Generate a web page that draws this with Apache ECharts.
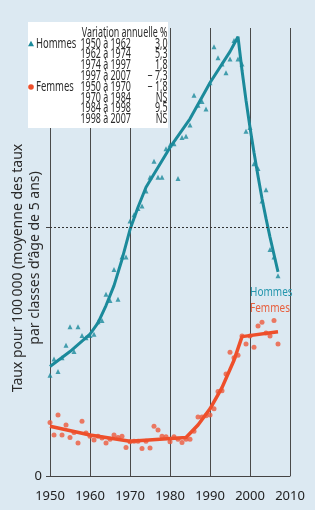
<!DOCTYPE html>
<html>
<head>
<meta charset="utf-8">
<script src="https://cdn.jsdelivr.net/npm/echarts@6/dist/echarts.min.js"></script>
<style>
    html, body { margin: 0; padding: 0; background: #dce9f2; }
    #chart { width: 315px; height: 510px; }
</style>
</head>
<body>
<div id="chart"></div>
<script>
let years = [
    1950, 1951, 1952, 1953, 1954, 1955, 1956, 1957, 1958, 1959,
    1960, 1961, 1962, 1963, 1964, 1965, 1966, 1967, 1968, 1969,
    1970, 1971, 1972, 1973, 1974, 1975, 1976, 1977, 1978, 1979,
    1980, 1981, 1982, 1983, 1984, 1985, 1986, 1987, 1988, 1989,
    1990, 1991, 1992, 1993, 1994, 1995, 1996, 1997, 1998, 1999,
    2000, 2001, 2002, 2003, 2004, 2005, 2006, 2007
];

let hommes = [
    8.1, 9.4, 8.4, 9.5, 10.5, 12.0, 10.0, 12.0, 11.3, 11.1,
    11.3, 11.4, 12.4, 12.5, 14.6, 14.1, 16.6, 14.2, 17.6, 17.6,
    20.5, 21.0, 21.5, 21.7, 22.9, 24.0, 25.3, 24.0, 24.0, 26.3,
    26.6, 26.7, 23.9, 27.2, 27.3, 28.2, 30.6, 29.8, 30.1, 29.5,
    31.6, 34.5, 33.6, 33.1, 32.4, 33.5, 35.0, 33.5, 33.1, 27.7,
    28.0, 25.1, 24.7, 22.1, 23.0, 18.2, 17.6, 16.1
];

let femmes = [
    4.3, 3.3, 4.9, 3.3, 4.1, 3.1, 3.5, 2.65, 4.4, 3.45,
    3.2, 2.9, 3.2, 3.05, 2.65, 2.95, 3.3, 3.1, 3.2, 2.3,
    2.75, 2.8, 2.8, 2.2, 2.8, 2.25, 4.0, 3.7, 3.2, 3.15,
    2.75, 3.15, 2.95, 2.7, 2.95, 2.95, 3.6, 4.75, 4.75, 4.85,
    4.9, 5.4, 6.8, 6.85, 8.2, 9.95, 9.5, 9.7, 11.25, 10.6,
    11.25, 10.35, 12.05, 12.35, 11.5, 11.25, 12.5, 10.6
];

// fitted trend lines
let hommesTrendYears = [1950, 1955, 1960, 1962, 1964, 1966, 1968, 1970, 1972, 1974,
    1980, 1985, 1990, 1995, 1997, 1998, 1999, 2000, 2001, 2002, 2003, 2004, 2005, 2006, 2007];
let hommesTrend = [8.8, 10.0, 11.4, 12.3, 13.7, 15.3, 17.4, 19.8, 21.6, 23.2,
    26.4, 28.7, 31.6, 34.1, 35.3, 32.6, 30.2, 28.0, 26.0, 24.1, 22.3, 20.7, 19.2, 17.8, 16.4];

let femmesTrendYears = [1950, 1960, 1970, 1984, 1987, 1990, 1993, 1996, 1998, 2007];
let femmesTrend = [4.0, 3.3, 2.8, 3.1, 4.1, 5.4, 7.1, 9.3, 11.2, 11.6];

let refLevel = 20;

let hommesPeriods = ['1950 à 1962', '1962 à 1974', '1974 à 1997', '1997 à 2007'];
let hommesRates = ['3,0', '5,3', '1,8', '\u2212 7,3'];
let femmesPeriods = ['1950 à 1970', '1970 à 1984', '1984 à 1998', '1998 à 2007'];
let femmesRates = ['\u2212 1,8', 'NS', '9,5', 'NS'];

let teal = '#1b8a9b';
let orange = '#ee4f2b';
let font = '"Noto Sans", sans-serif';

let pairs = (xs, ys) => xs.map((x, i) => [x, ys[i]]);

// legend box drawn by hand
let graphics = [{
    type: 'rect', z: 100,
    shape: { x: 28, y: 22, width: 140, height: 106 },
    style: { fill: '#ffffff' }
}];

let condensed = (text, x, y, align, color, size, sx) => ({
    type: 'text', z: 101, x: x, y: y, scaleX: sx || 0.66,
    style: {
        text: text, fill: color || '#2b2b2b', font: (size || 13.5) + 'px ' + font,
        align: align, verticalAlign: 'middle'
    }
});

let rowY = i => 33 + i * 10.8;

graphics.push(condensed('Variation annuelle %', 167.5, rowY(0), 'right'));
graphics.push(condensed('Hommes', 36, rowY(1), 'left', '#2b2b2b', 13.5, 0.7));
graphics.push(condensed('Femmes', 36, rowY(5), 'left', '#2b2b2b', 13.5, 0.7));
hommesPeriods.forEach((p, i) => {
    graphics.push(condensed(p, 80.5, rowY(1 + i), 'left'));
    graphics.push(condensed(hommesRates[i], 167.5, rowY(1 + i), 'right'));
});
femmesPeriods.forEach((p, i) => {
    graphics.push(condensed(p, 80.5, rowY(5 + i), 'left'));
    graphics.push(condensed(femmesRates[i], 167.5, rowY(5 + i), 'right'));
});
graphics.push({
    type: 'polygon', z: 101,
    shape: { points: [[31, rowY(1) - 3], [34, rowY(1) + 2.5], [28, rowY(1) + 2.5]] },
    style: { fill: teal }
});
graphics.push({
    type: 'circle', z: 101,
    shape: { cx: 31, cy: rowY(5), r: 2.8 },
    style: { fill: orange }
});

// series names next to the curves
graphics.push(condensed('Hommes', 250, 292, 'left', '#2596ad', 12.5, 0.8));
graphics.push(condensed('Femmes', 250, 308, 'left', '#e8603f', 12.5, 0.8));

// y axis title, two rotated lines
graphics.push({
    type: 'text', x: 18, y: 268, rotation: Math.PI / 2,
    style: {
        text: 'Taux pour 100\u2009000 (moyenne des taux', fill: '#2b2b2b',
        font: '14px ' + font, align: 'center', verticalAlign: 'middle'
    }
});
graphics.push({
    type: 'text', x: 35, y: 258, rotation: Math.PI / 2,
    style: {
        text: 'par classes d\u2019âge de 5 ans)', fill: '#2b2b2b',
        font: '14px ' + font, align: 'center', verticalAlign: 'middle'
    }
});

let chart = echarts.init(document.getElementById('chart'));

chart.setOption({
    backgroundColor: '#dce9f2',
    animation: false,
    grid: { left: 50, right: 25, top: 28, bottom: 34 },
    xAxis: {
        type: 'value', min: 1950, max: 2010, interval: 10,
        axisLine: { show: true, lineStyle: { color: '#444', width: 1 } },
        axisTick: { show: false },
        axisLabel: {
            color: '#222', fontSize: 13, fontFamily: font, margin: 14,
            formatter: v => String(v)
        },
        splitLine: { show: true, lineStyle: { color: '#4a4a4a', width: 1 } }
    },
    yAxis: {
        type: 'value', min: 0, max: 36, interval: 4,
        axisLine: { show: false },
        axisTick: { show: true, customValues: [0, refLevel], length: 4, lineStyle: { color: '#444' } },
        axisLabel: { customValues: [0], color: '#222', fontSize: 13, fontFamily: font, margin: 8 },
        splitLine: { show: false }
    },
    graphic: graphics,
    series: [
        {
            type: 'scatter', data: pairs(years, hommes),
            symbol: 'triangle', symbolSize: 5,
            itemStyle: { color: teal }, z: 3
        },
        {
            type: 'scatter', data: pairs(years, femmes),
            symbol: 'circle', symbolSize: 5,
            itemStyle: { color: '#ee5a3c' }, z: 3
        },
        {
            type: 'line', data: pairs(hommesTrendYears, hommesTrend),
            showSymbol: false, lineStyle: { color: teal, width: 3 }, z: 4
        },
        {
            type: 'line', data: pairs(femmesTrendYears, femmesTrend),
            showSymbol: false, lineStyle: { color: orange, width: 3.5 }, z: 4,
            markLine: {
                silent: true, symbol: 'none', label: { show: false },
                lineStyle: { color: '#333', type: [2, 2], width: 1 },
                data: [{ yAxis: refLevel }]
            }
        }
    ]
});
</script>
</body>
</html>
